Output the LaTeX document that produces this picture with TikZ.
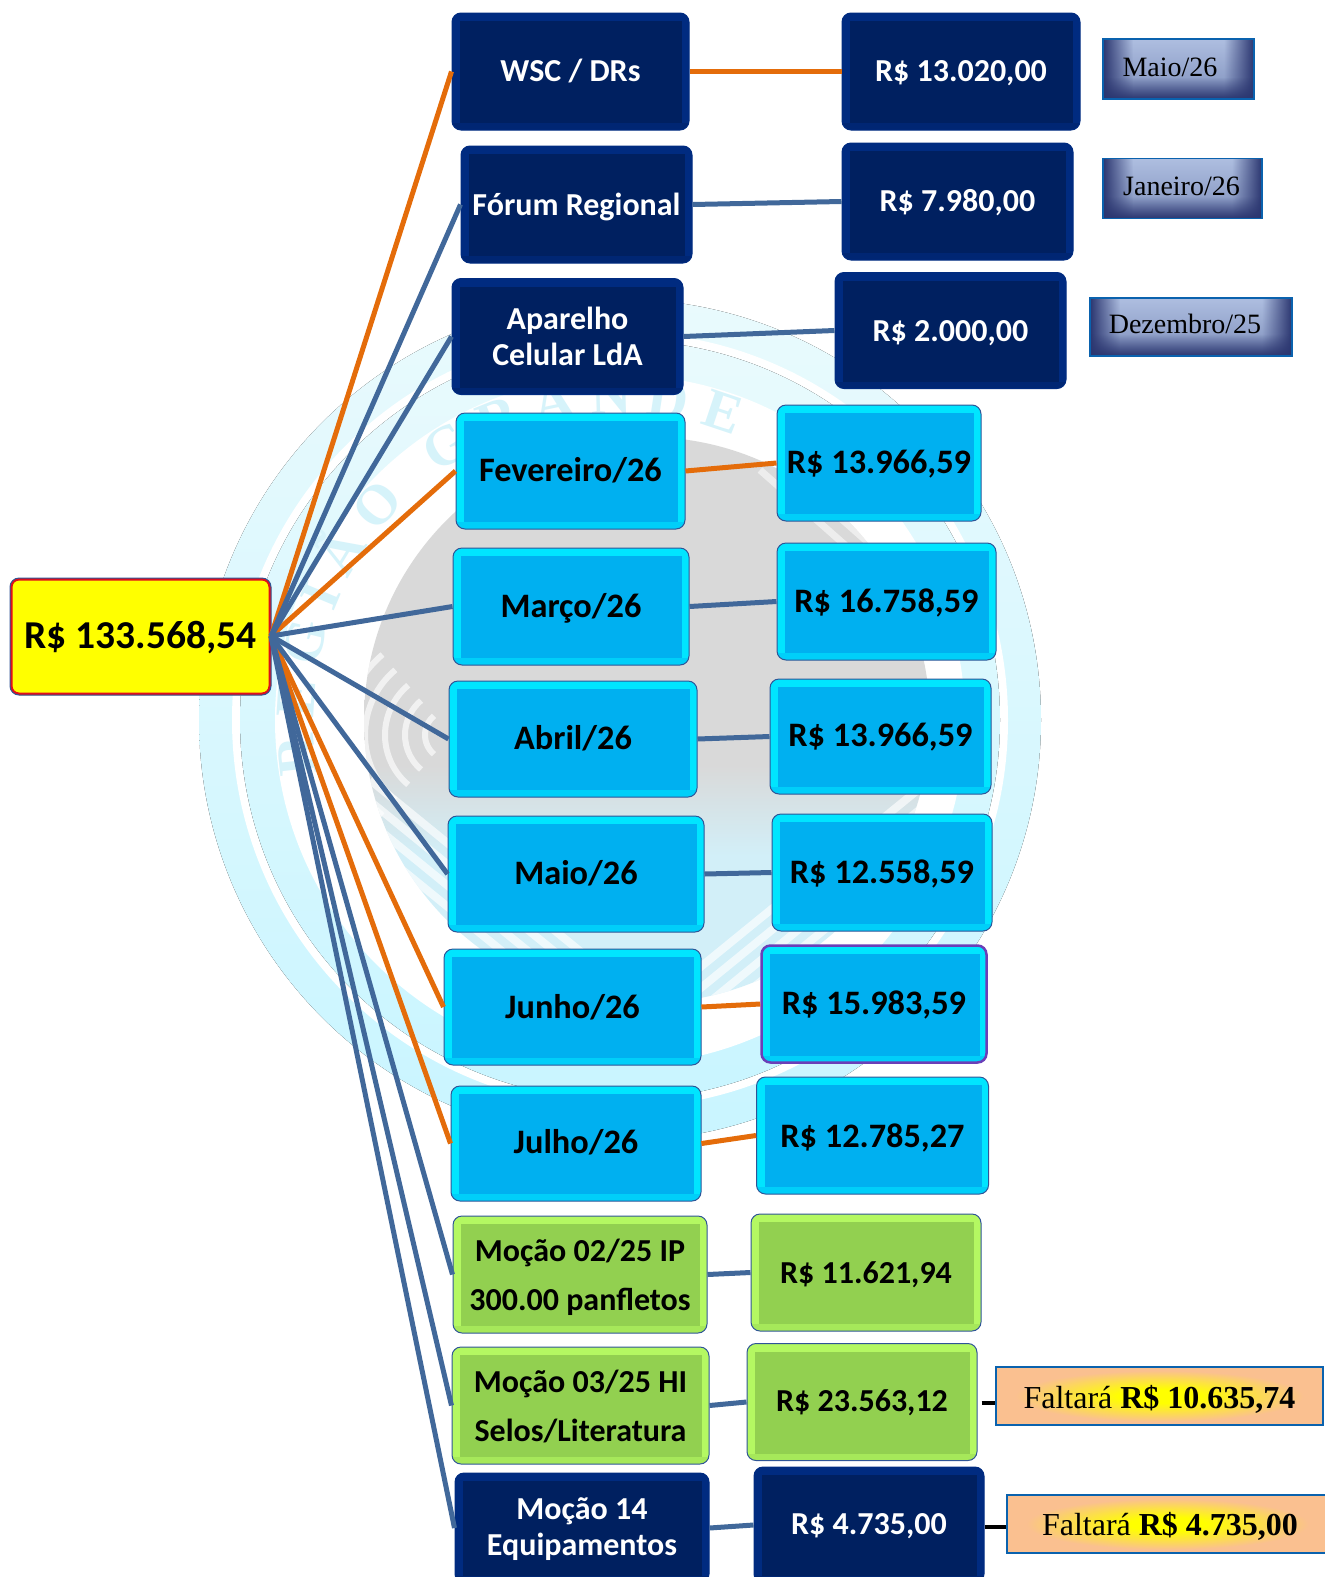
\documentclass[tikz,border=0pt]{standalone}
\usepackage{fontspec}
\setmainfont{Carlito}
\newfontfamily\timesfont{Liberation Serif}
\usetikzlibrary{calc,fadings,decorations.text}
\definecolor{navyin}{HTML}{002060}
\definecolor{navyfr}{HTML}{002B80}
\definecolor{cyanin}{HTML}{00B0F0}
\definecolor{cyanfr}{HTML}{00E5FF}
\definecolor{greenin}{HTML}{92D050}
\definecolor{greenfr}{HTML}{B4F862}
\definecolor{edgeblue}{HTML}{2F5597}
\definecolor{linkblue}{HTML}{41689A}
\definecolor{linkorange}{HTML}{E46C0A}
\definecolor{peach}{HTML}{FAC090}
\definecolor{pureyellow}{HTML}{FFFF00}
\definecolor{redline}{HTML}{E0101A}
\definecolor{violetline}{HTML}{6A3FB8}
\definecolor{tagedge}{HTML}{0A62AE}
\definecolor{taglight}{HTML}{AEBEE0}
\definecolor{tagmid}{HTML}{7F90BC}
\definecolor{tagdark}{HTML}{2B3670}
\definecolor{ringlow}{HTML}{C9F5FF}
\definecolor{ringhigh}{HTML}{E9FAFD}
\definecolor{discgrey}{HTML}{D9D9D9}
\definecolor{disclow}{HTML}{D2EFF8}
\definecolor{letterpale}{HTML}{D6F3FA}
\pgfdeclareradialshading{lackglow}{\pgfpoint{0bp}{0bp}}{color(0bp)=(pureyellow); color(6bp)=(pureyellow); color(22bp)=(peach); color(50bp)=(peach)}
\pgfdeclareverticalshading{discshade}{100bp}{color(0bp)=(disclow); color(38bp)=(disclow); color(46bp)=(discgrey); color(100bp)=(discgrey)}
\newcommand\dnby[2]{\raisebox{0pt}[\dimexpr\height+#1pt*2\relax]{#2}}
\newcommand\upby[2]{\raisebox{0pt}[\height][\dimexpr\depth+#1pt*2\relax]{#2}}
\tikzset{
  x=1pt,y=-1pt,
  wh/.style 2 args={minimum width=#1,minimum height=#2},
  bevel/.style 2 args={rectangle,rounded corners=9pt,fill=#2,draw=edgeblue,line width=1pt,
    inner sep=0pt,align=center,font=\bfseries\fontsize{34.3}{35.5}\selectfont,
    path picture={
      \fill[#1,sharp corners]
        ([xshift=8pt,yshift=-8pt]path picture bounding box.north west) rectangle
        ([xshift=-7pt,yshift=7pt]path picture bounding box.south east);
      \fill[#1,opacity=.4,sharp corners]
        (path picture bounding box.south west) rectangle
        ([yshift=7pt]path picture bounding box.south east);}},
  navybox/.style={bevel={navyin}{navyfr},draw=navyfr,text=white,font=\bfseries\fontsize{32}{35.5}\selectfont},
  cyanbox/.style={bevel={cyanin}{cyanfr},text=black},
  violetbox/.style={cyanbox,draw=violetline,line width=2.5pt},
  greenbox/.style={bevel={greenin}{greenfr},text=black,font=\bfseries\fontsize{32}{49}\selectfont},
  totalbox/.style={rectangle,rounded corners=9pt,fill=pureyellow,draw=edgeblue,line width=1pt,inner sep=0pt,
    font=\bfseries\fontsize{39.5}{40}\selectfont,text=black,
    path picture={\draw[redline,line width=5pt,rounded corners=9pt]
      (path picture bounding box.north west) rectangle (path picture bounding box.south east);}},
  tagbox/.style={rectangle,draw=tagedge,line width=1.5pt,inner sep=0pt,
    font=\timesfont\fontsize{28}{30}\selectfont,text=black,
    path picture={
      \fill[top color=taglight,bottom color=tagmid]
        (path picture bounding box.north west) rectangle (path picture bounding box.south east);
      \fill[tagdark,path fading=east]
        (path picture bounding box.north west) rectangle ([xshift=30pt]path picture bounding box.south west);
      \fill[tagdark,path fading=west]
        ([xshift=-30pt]path picture bounding box.north east) rectangle (path picture bounding box.south east);
      \fill[tagdark,path fading=north]
        ([yshift=22pt]path picture bounding box.south west) rectangle (path picture bounding box.south east);
    }},
  lackbox/.style={rectangle,draw=tagedge,line width=1.5pt,inner sep=0pt,shading=lackglow,
    font=\timesfont\fontsize{32}{34}\selectfont,text=black},
  lor/.style={linkorange,line width=5pt},
  lbl/.style={linkblue,line width=5pt},
  lbk/.style={black,line width=4pt},
}
\begin{document}
\begin{tikzpicture}
\useasboundingbox (0,0) rectangle (1325,1577);
% watermark
\fill[top color=ringhigh,bottom color=ringlow] (620,720) circle [radius=421];
\fill[white] (620,720) circle [radius=388];
\fill[top color=ringhigh,bottom color=ringlow] (620,720) circle [radius=380];
\fill[white] (620,720) circle [radius=345];
\path[decorate,decoration={text along path,text align={fit to path},
   text={|\timesfont\bfseries\fontsize{56}{60}\selectfont\color{letterpale}|REGIÃO GRANDE}}]
   (620,720) ++(170:306) arc[start angle=170,end angle=292,radius=306];
\begin{scope}
\clip (647,720) circle [radius=283];
\shade[shading=discshade] (364,437) rectangle (930,1003);
\foreach \d in {0,26,...,130}{
  \draw[white,line width=8pt,opacity=.65] (660+\d,1000) -- (930+\d,780);
  \draw[white,line width=8pt,opacity=.65] (640-\d,1000) -- (370-\d,780);
}
\foreach \d in {0,26,...,78}{
  \draw[white,line width=7pt,opacity=.55] (760+\d,470) -- (930+\d,620);
}
\foreach \r in {25,45,...,105}{
  \draw[white,line width=6pt,opacity=.65] (450,735) ++(130:\r) arc[start angle=130,end angle=230,radius=\r];
}
\end{scope}
% nodes
\node[totalbox,wh={261}{117}] (total) at (140.5,636.5) {\dnby{1}{R\$ 133.568,54}};
\node[navybox,wh={237}{117}] (wsc) at (570.5,71.5) {\upby{1}{WSC / DRs}};
\node[navybox,wh={238}{117}] (vwsc) at (961,71.5) {\dnby{2}{R\$ 13.020,00}};
\node[tagbox,wh={151}{60}] (t1) at (1178.5,69) {\upby{2}{\hspace*{-17pt}Maio/26}};
\node[navybox,wh={231}{117}] (forum) at (576.5,204.5) {\dnby{2}{Fórum Regional}};
\node[navybox,wh={231}{117}] (vforum) at (957.5,201.5) {\dnby{1}{R\$ 7.980,00}};
\node[tagbox,wh={159}{60}] (t2) at (1182.5,188.5) {\upby{2}{\hspace*{-2pt}Janeiro/26}};
\node[navybox,wh={231}{116}] (apar) at (567.5,336.5) {Aparelho\\Celular LdA};
\node[navybox,wh={231}{116}] (vapar) at (950.5,330.5) {\dnby{3}{R\$ 2.000,00}};
\node[tagbox,wh={202}{58}] (t3) at (1191,327) {\upby{3}{\hspace*{-12pt}Dezembro/25}};
\node[cyanbox,wh={229}{116}] (fev) at (570.5,471) {\upby{1}{Fevereiro/26}};
\node[cyanbox,wh={204}{116}] (vfev) at (879,463) {\dnby{1}{R\$ 13.966,59}};
\node[cyanbox,wh={236}{117}] (mar) at (571,606.5) {\dnby{2}{Março/26}};
\node[cyanbox,wh={219}{117}] (vmar) at (886.5,601.5) {\dnby{1}{R\$ 16.758,59}};
\node[cyanbox,wh={248}{116}] (abr) at (573,739) {\upby{1}{Abril/26}};
\node[cyanbox,wh={221}{115}] (vabr) at (880.5,736.5) {\dnby{1}{R\$ 13.966,59}};
\node[cyanbox,wh={256}{116}] (mai) at (576,874) {\upby{1}{Maio/26}};
\node[cyanbox,wh={220}{117}] (vmai) at (882,872.5) {\dnby{1}{R\$ 12.558,59}};
\node[cyanbox,wh={257}{116}] (jun) at (572.5,1007) {Junho/26};
\node[violetbox,wh={225}{117}] (vjun) at (874,1004) {\dnby{1}{R\$ 15.983,59}};
\node[cyanbox,wh={250}{115}] (jul) at (576,1143.5) {\upby{1}{Julho/26}};
\node[cyanbox,wh={232}{117}] (vjul) at (872.5,1135.5) {\dnby{2}{R\$ 12.785,27}};
\node[greenbox,wh={254}{117}] (m2) at (580,1274.5) {\dnby{3}{Moção 02/25 IP}\\300.00 panfletos};
\node[greenbox,wh={230}{117}] (vm2) at (866,1272.5) {\dnby{2}{R\$ 11.621,94}};
\node[greenbox,wh={257}{117}] (m3) at (580.5,1405.5) {\dnby{1}{Moção 03/25 HI}\\Selos/Literatura};
\node[greenbox,wh={230}{117}] (vm3) at (862,1402) {\dnby{1}{R\$ 23.563,12}};
\node[navybox,wh={254}{110}] (m14) at (582,1528) {\dnby{1}{Moção 14}\\Equipamentos};
\node[navybox,wh={230}{116}] (vm14) at (869,1525) {\dnby{1}{R\$ 4.735,00}};
\node[lackbox,wh={327}{58}] (l1) at (1159.5,1396) {\dnby{3}{Faltará \textbf{R\$ 10.635,74}}};
\node[lackbox,wh={321}{58}] (l2) at (1167.5,1524) {\dnby{2}{\hspace*{5pt}Faltará \textbf{R\$ 4.735,00}}};
% connectors
\coordinate (hub) at (271,636);
\coordinate (b1) at ([xshift=4pt,yshift=-1pt]vm3.east);
\coordinate (b2) at ([yshift=-2pt]vm14.east);
\foreach \t in {wsc,fev,jun,jul}{\draw[lor] (hub) -- (\t.west);}
\foreach \t in {forum,apar,mar,abr,mai,m2,m3,m14}{\draw[lbl] (hub) -- (\t.west);}
\draw[lor] (wsc.east) -- (vwsc.west);
\draw[lbl] (forum.east) -- (vforum.west);
\draw[lbl] (apar.east) -- (vapar.west);
\draw[lor] (fev.east) -- (vfev.west);
\draw[lbl] (mar.east) -- (vmar.west);
\draw[lbl] (abr.east) -- (vabr.west);
\draw[lbl] (mai.east) -- (vmai.west);
\draw[lor] (jun.east) -- (vjun.west);
\draw[lor] (jul.east) -- (vjul.west);
\draw[lbl] (m2.east) -- (vm2.west);
\draw[lbl] (m3.east) -- (vm3.west);
\draw[lbl] (m14.east) -- (vm14.west);
\draw[lbk] (b1) -- (b1 -| l1.west);
\draw[lbk] (b2) -- (b2 -| l2.west);
\end{tikzpicture}
\end{document}
